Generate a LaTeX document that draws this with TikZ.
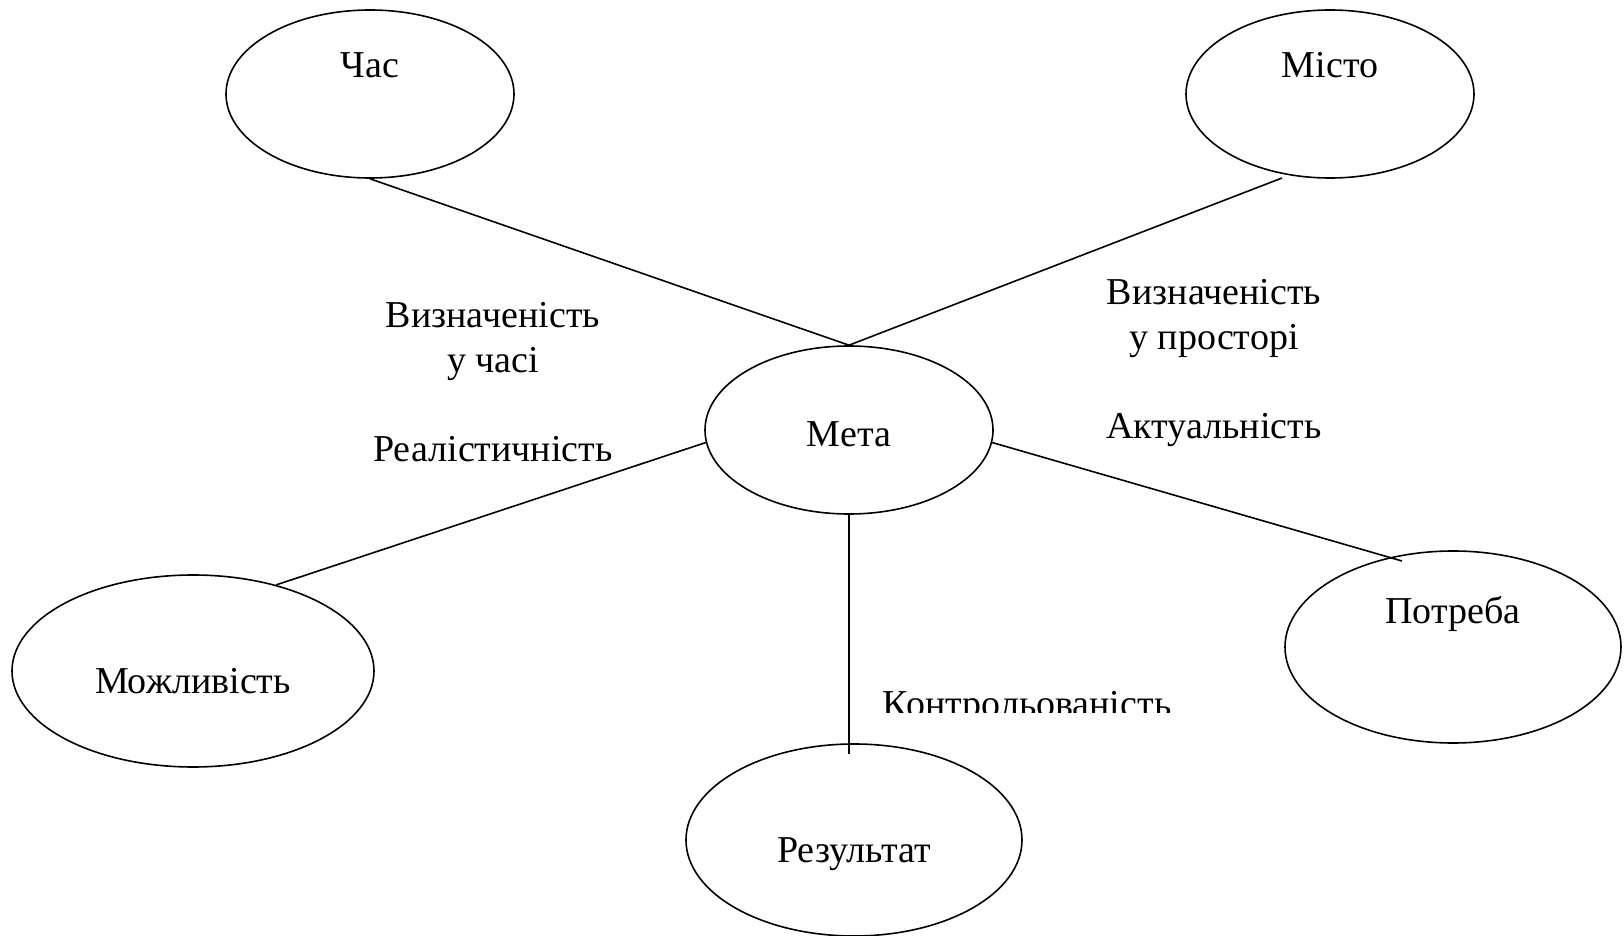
\documentclass[tikz,border=0pt]{standalone}
\usepackage{fontspec}
\setmainfont{Liberation Serif}
\usetikzlibrary{shapes.geometric}

\tikzset{
    oval/.style 2 args={draw, ellipse, line width=0.8pt, minimum width=#1, minimum height=#2, inner sep=0pt},
    tag/.style={anchor=base, inner sep=0pt, font=\fontsize{19}{23}\selectfont},
    link/.style={line width=0.8pt}
}

\begin{document}
\begin{tikzpicture}[x=0.5pt,y=-0.5pt]
    \useasboundingbox (0,0) rectangle (1624,936);

    % ovals
    \node[oval={144pt}{84pt}] (chas) at (370,94) {};
    \node[oval={144pt}{84pt}] (misto) at (1330,94) {};
    \node[oval={144pt}{84pt}] (meta) at (849,430) {};
    \node[oval={181pt}{96pt}] (mozh) at (193,671) {};
    \node[oval={168pt}{96pt}] (rez) at (854,840) {};
    \node[oval={168pt}{96pt}] (potr) at (1453,647) {};

    \node[tag] (chas text) at (370,78) {Час};
    \node[tag] (misto text) at (1330,78) {Місто};
    \node[tag] (meta text) at (849,447) {Мета};
    \node[tag] (mozh text) at (193,693) {Можливість};
    \node[tag] (rez text) at (854,862) {Результат};
    \node[tag] (potr text) at (1453,623) {Потреба};

    % free ends
    \coordinate (misto end) at (1282,178);
    \coordinate (potr end) at (1402,561);
    \coordinate (rez end) at (849,754);

    \draw[link] (chas.south) -- (meta.north);
    \draw[link] (misto end) -- (meta.north);
    \draw[link] (meta.185) -- (mozh.46);
    \draw[link] (meta.-5) -- (potr end);
    \draw[link] (meta.south) -- (rez end);

    % labels
    \node[tag] (time1) at (493,328) {Визначеність};
    \node[tag] (time2) at (493,373) {у часі};
    \node[tag] (space1) at (1214,305) {Визначеність};
    \node[tag] (space2) at (1214,350) {у просторі};
    \node[tag] (aktual) at (1214,438) {Актуальність};
    \node[tag] (real) at (493,462) {Реалістичність};
    \begin{scope}
        \clip (870,660) rectangle (1200,712);
        \node[tag] (kontrol) at (1027,716) {Контрольованість};
    \end{scope}
\end{tikzpicture}
\end{document}
